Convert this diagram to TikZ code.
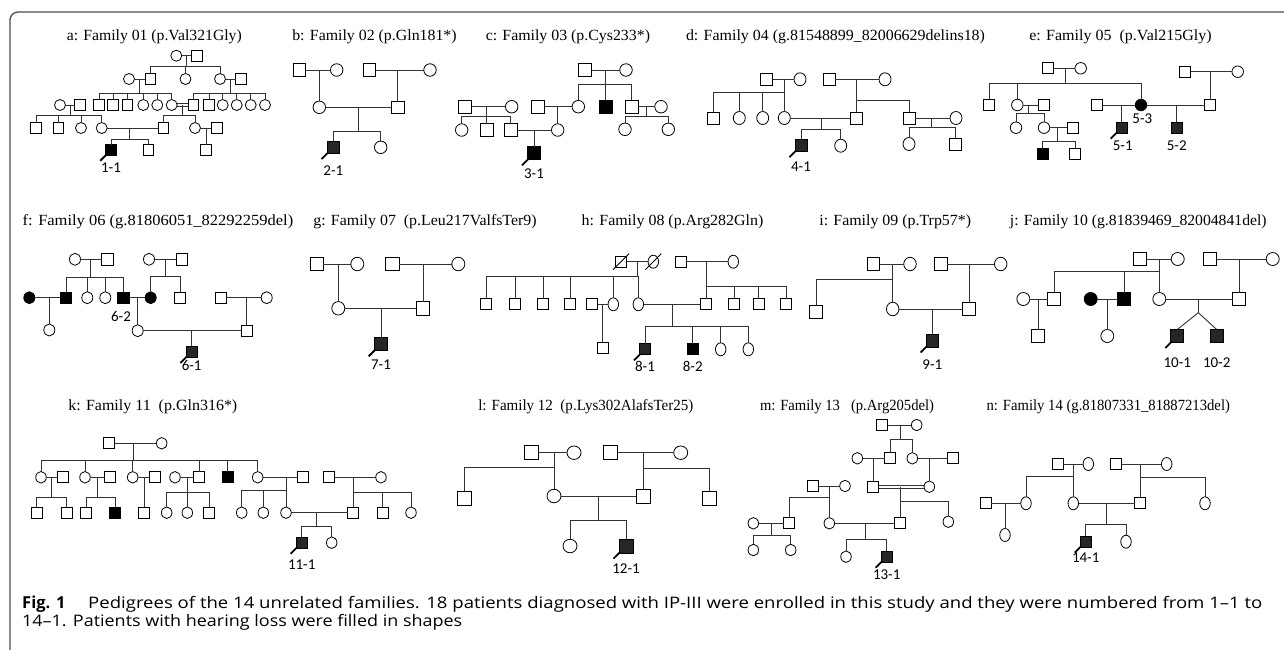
\documentclass[tikz,border=0pt]{standalone}
\usepackage{graphicx}
\usepackage{fontspec}
\setmainfont{Liberation Serif}
\newfontfamily\labfont{Carlito}
\newfontfamily\capfont{Open Sans}
\usetikzlibrary{shapes.geometric,calc}
\def\SZ{12}\def\CW{12}\def\CH{12}
\tikzset{
 ln/.style={draw=black!80, line width=0.9pt},
 base/.style={draw=black, line width=0.8pt, fill=white, inner sep=0pt, outer sep=0pt},
 sq/.style={base, rectangle, minimum size=\SZ pt},
 ci/.style={base, ellipse, minimum width=\CW pt, minimum height=\CH pt},
 aff/.style={fill=black!85},
 affb/.style={fill=black},
 lab/.style={font=\labfont\fontsize{15}{15}\selectfont, inner sep=0pt},
 ttl/.style={font=\fontsize{15.5}{16}\selectfont, inner sep=0pt},
 pro/.style={line width=1.8pt, draw=black},
 dec/.style={draw=black, line width=0.8pt},
 capt/.style={font=\capfont\fontsize{15.9}{16}\selectfont, inner sep=0pt, anchor=base west},
 frame/.style={draw=black!70, line width=1.3pt, rounded corners=8pt},
}
\newcommand\Ttl[4]{\node[ttl] (#1) at (#2) {\resizebox{#3pt}{\height}{#4}};}
\newcommand\Sq[4][]{\node[sq,#1] (#2) at (#3,#4) {};}
\newcommand\Ci[4][]{\node[ci,#1] (#2) at (#3,#4) {};}
\newcommand\Mar[2]{\draw[ln] (#1) -- (#2);}
\newcommand\Sib[4]{\draw[ln] (#1,#2) -- (#1,#3); \foreach \kid in {#4} {\draw[ln] (#1,#3) -| (\kid);}}
\newcommand\Pro[1]{\draw[pro] ([shift={(-5.5pt,-5.5pt)}]#1.south west) -- ([shift={(1pt,1pt)}]#1.south west);}
\newcommand\Dec[1]{\draw[dec] ([shift={(-8pt,-8pt)}]#1.center) -- ([shift={(8pt,8pt)}]#1.center);}
\newcommand\Dbl[2]{\draw[ln] ([yshift=1.6pt]#1.east) -- ([yshift=1.6pt]#2.west); \draw[ln] ([yshift=-1.6pt]#1.east) -- ([yshift=-1.6pt]#2.west);}
\begin{document}
\begin{tikzpicture}[x=1pt,y=-1pt]
\useasboundingbox (0,0) rectangle (1284,649);
\fill[white] (0,0) rectangle (1284,649);
\draw[frame] (10,660) -- (10,12) -- (1300,12);

% ---------- titles
\Ttl{ta}{154.3,37}{175}{a: Family 01 (p.Val321Gly)}
\Ttl{tb}{374.5,37}{164.4}{b: Family 02 (p.Gln181*)}
\Ttl{tc}{567.9,37}{164.3}{c: Family 03 (p.Cys233*)}
\Ttl{td}{835.5,37}{299}{d: Family 04 (g.81548899\_82006629delins18)}
\Ttl{te}{1120.5,37}{182.4}{e: Family 05\ \ (p.Val215Gly)}
\Ttl{tf}{158,221.7}{270.6}{f: Family 06 (g.81806051\_82292259del)}
\Ttl{tg}{425,221.7}{223.4}{g: Family 07\ \ (p.Leu217ValfsTer9)}
\Ttl{th}{672.5,221.7}{181.6}{h: Family 08 (p.Arg282Gln)}
\Ttl{ti}{895.2,221.7}{151.7}{i: Family 09 (p.Trp57*)}
\Ttl{tj}{1138.3,221.7}{256.7}{j: Family 10 (g.81839469\_82004841del)}
\Ttl{tk}{152.8,406.7}{169}{k: Family 11\ \ (p.Gln316*)}
\Ttl{tl}{585.8,406.7}{215}{l: Family 12\ \ (p.Lys302AlafsTer25)}
\Ttl{tm}{847,406.7}{174}{m: Family 13\ \ \ (p.Arg205del)}
\Ttl{tn}{1108.3,406.7}{243.3}{n: Family 14 (g.81807331\_81887213del)}

% ---------- family a
\begin{scope}
\def\SZ{10.5}\def\CW{11}\def\CH{11}
\Ci{a1}{176.3}{55.7} \Sq{a2}{196.7}{55.7}
\Ci{a4}{129}{79} \Sq{a3}{150.5}{79} \Ci{a5}{185.5}{79} \Ci{a6}{220}{79} \Sq{a7}{241}{79}
\Sq{a8}{99}{105} \Sq{a9}{113}{105} \Sq{a10}{127.3}{105} \Ci{a11}{143.3}{105} \Ci{a12}{157.3}{105} \Ci{a13}{171.7}{105}
\Sq{a14}{193.3}{105} \Sq{a15}{209}{105} \Ci{a16}{222.7}{105} \Ci{a17}{236.7}{105} \Ci{a18}{250.7}{105} \Ci{a19}{265}{105}
\Ci{a24}{60}{105} \Sq{a25}{80}{105}
\Sq{a26}{36}{128} \Sq{a27}{58.3}{128} \Ci{a28}{81}{128} \Ci{a29}{101.7}{128} \Sq{a20}{163.3}{128} \Ci{a21}{195}{128} \Sq{a22}{216.7}{128}
\Sq[affb]{a30}{111}{150} \Sq{a31}{148.3}{150} \Sq{a23}{206}{150}
\Mar{a1}{a2} \Sib{186.5}{55.7}{66.7}{a3,a5,a6}
\Mar{a4}{a3} \Sib{139.8}{79}{93.3}{a8,a9,a10,a11,a12,a13}
\Mar{a6}{a7} \Sib{230.5}{79}{93.3}{a14,a15,a16,a17,a18,a19}
\Dbl{a13}{a14} \Sib{182.5}{105}{115.7}{a20,a21}
\Mar{a24}{a25} \Sib{70}{105}{115.7}{a26,a27,a28,a29}
\Mar{a29}{a20} \Sib{129.3}{128}{139}{a30,a31}
\Mar{a21}{a22} \Sib{206}{128}{139}{a23}
\Pro{a30}
\node[lab] (la30) at (111,168) {1-1};
\end{scope}

% ---------- family b
\begin{scope}
\def\SZ{12.5}\def\CW{12.5}\def\CH{12.5}
\Sq{b1}{299.3}{70} \Ci{b2}{336.7}{70} \Sq{b3}{369.3}{70} \Ci{b4}{430}{70}
\Ci{b5}{319.3}{107.3} \Sq{b6}{397.7}{107.3}
\Sq[aff]{b7}{333.3}{147.3} \Ci{b8}{380.7}{147.3}
\Mar{b1}{b2} \Sib{319.3}{70}{90}{b5}
\Mar{b3}{b4} \Sib{397.7}{70}{90}{b6}
\Mar{b5}{b6} \Sib{358.3}{107.3}{131}{b7,b8}
\Pro{b7}
\node[lab] (lb7) at (333.3,170.7) {2-1};
\end{scope}

% ---------- family c
\begin{scope}
\def\SZ{13}\def\CW{12.5}\def\CH{12.5}
\Sq{c1}{585}{70} \Ci{c2}{626}{70}
\Ci{c3}{578.3}{106.7} \Sq[affb]{c4}{605.5}{106.7} \Sq{c5}{631.7}{106.7} \Ci{c6}{661}{106.7}
\Ci{c7}{625}{129.3} \Ci{c8}{668.3}{129.3}
\Sq{c9}{465}{106.7} \Ci{c10}{511.7}{106.7}
\Ci{c11}{461.7}{130} \Sq{c12}{486.7}{130} \Sq{c13}{510.7}{130}
\Sq{c14}{538.3}{106.7} \Ci{c16}{557.7}{130}
\Sq[affb]{c17}{534}{153.3}
\Mar{c1}{c2} \Sib{605.5}{70}{84}{c3,c4,c5}
\Mar{c5}{c6} \Sib{646}{106.7}{116}{c7,c8}
\Mar{c9}{c10} \Sib{486.7}{106.7}{116.7}{c11,c12,c13}
\Mar{c14}{c3} \Sib{557.7}{106.7}{118}{c16}
\Mar{c13}{c16} \Sib{534}{130}{140}{c17}
\Pro{c17}
\node[lab] (lc17) at (534,174) {3-1};
\end{scope}

% ---------- family d
\begin{scope}
\def\SZ{12}\def\CW{12}\def\CH{13}
\Sq{d1}{766.7}{79.3} \Ci{d2}{800}{79.3}
\Sq{d3}{713.3}{118} \Ci{d4}{739.3}{118} \Ci{d5}{762.7}{118} \Ci{d6}{784.3}{118}
\Sq{d7}{829.3}{79.3} \Ci{d8}{885}{79.3}
\Sq{d9}{856}{118} \Sq{d10}{909}{118} \Ci{d13}{956}{118}
\Sq[aff]{d11}{801}{145.7} \Ci{d12}{840.7}{145.7}
\Ci{d14}{909}{144} \Sq{d15}{955}{144}
\Mar{d1}{d2} \Sib{784.3}{79.3}{92.7}{d3,d4,d5,d6}
\Mar{d7}{d8} \Sib{856}{79.3}{100.7}{d9,d10}
\Mar{d6}{d9} \Sib{821.7}{118}{129.3}{d11,d12}
\Mar{d10}{d13} \Sib{931.7}{118}{127.3}{d14,d15}
\Pro{d11}
\node[lab] (ld11) at (801,166.7) {4-1};
\end{scope}

% ---------- family e
\begin{scope}
\def\SZ{11}\def\CW{11.5}\def\CH{11.5}
\Sq{e1}{1048.3}{68.3} \Ci{e2}{1080.7}{68.3}
\Sq{e3}{989.3}{105} \Ci{e4}{1017.3}{105} \Sq{e6}{1044}{105} \Sq{e12}{1097.3}{105} \Ci[affb]{e5}{1141}{105} \Sq{e14}{1210}{105}
\Ci{e7}{1016}{127.7} \Ci{e8}{1044}{127.7} \Sq{e9}{1072.7}{127.7}
\Sq[affb]{e10}{1042.7}{154.3} \Sq{e11}{1075}{154.3}
\Sq[aff]{e13}{1121.7}{127.7} \Sq[aff]{e15}{1176.7}{127.7}
\Sq{e16}{1185}{71.7} \Ci{e17}{1237.7}{71.7}
\Mar{e1}{e2} \Sib{1065}{68.3}{83.3}{e3,e4,e5}
\Mar{e4}{e6} \Sib{1028.3}{105}{113.3}{e7,e8}
\Mar{e8}{e9} \Sib{1057.3}{127.7}{141.7}{e10,e11}
\Mar{e12}{e5} \Sib{1121.7}{105}{115}{e13}
\Mar{e5}{e14} \Sib{1176.7}{105}{115}{e15}
\Mar{e16}{e17} \Sib{1210}{71.7}{90}{e14}
\Pro{e13}
\node[lab] (le5) at (1142.3,118.3) {5-3};
\node[lab] (le13) at (1122.7,145.7) {5-1};
\node[lab] (le15) at (1176.7,145.7) {5-2};
\end{scope}

% ---------- family f
\begin{scope}
\def\SZ{11.5}\def\CW{11}\def\CH{12}
\Ci{f1}{75}{259.3} \Sq{f2}{107.3}{259.3}
\Ci[affb]{f7}{29.3}{297.7} \Sq[affb]{f3}{66}{297.7} \Ci{f4}{87.3}{297.7} \Ci{f5}{105.3}{297.7} \Sq[affb]{f6}{123.3}{297.7}
\Ci{f8}{49.3}{330}
\Ci{f9}{149}{259.3} \Sq{f10}{181.7}{259.3}
\Ci[affb]{f11}{150.7}{297.7} \Sq{f12}{180}{297.7}
\Ci{f13}{137.7}{330.7}
\Sq{f14}{220.7}{297.7} \Ci{f15}{266.7}{297.7} \Sq{f16}{246.7}{330.7}
\Sq[aff]{f17}{191.7}{351.7}
\Mar{f1}{f2} \Sib{90}{259.3}{277.3}{f3,f4,f5,f6}
\Mar{f7}{f3} \Sib{49.3}{297.7}{310}{f8}
\Mar{f9}{f10} \Sib{165}{259.3}{276.7}{f11,f12}
\Mar{f6}{f11} \Sib{137.7}{297.7}{310}{f13}
\Mar{f14}{f15} \Sib{246.7}{297.7}{310}{f16}
\Mar{f13}{f16} \Sib{191.7}{330.7}{340}{f17}
\Pro{f17}
\node[lab] (lf6) at (121,316) {6-2};
\node[lab] (lf17) at (191.7,365) {6-1};
\end{scope}

% ---------- family g
\begin{scope}
\def\SZ{13.5}\def\CW{13}\def\CH{13.5}
\Sq{g1}{316.7}{264} \Ci{g2}{357.3}{264} \Sq{g4}{392.3}{264} \Ci{g5}{458.3}{264}
\Ci{g3}{338.3}{308.3} \Sq{g6}{423}{308.3}
\Sq[aff]{g7}{381}{344}
\Mar{g1}{g2} \Sib{338.3}{264}{285}{g3}
\Mar{g4}{g5} \Sib{423}{264}{285}{g6}
\Mar{g3}{g6} \Sib{381}{308.3}{320}{g7}
\Pro{g7}
\node[lab] (lg7) at (381,365) {7-1};
\end{scope}

% ---------- family h
\begin{scope}
\def\SZ{11}\def\CW{10.5}\def\CH{13}
\Sq{h1}{621}{261.7} \Ci{h2}{653.3}{261.7}
\Sq{h3}{486}{304.3} \Sq{h4}{515}{304.3} \Sq{h5}{543.3}{304.3} \Sq{h6}{570}{304.3} \Sq{h9}{592.3}{304.3} \Ci{h7}{613.3}{304.3} \Ci{h8}{638.3}{304.3}
\Sq{h10}{602.7}{347.7}
\Sq{h11}{680.7}{261.7} \Ci{h12}{733.3}{261.7}
\Sq{h13}{706}{304.3} \Sq{h14}{734}{304.3} \Sq{h15}{758.7}{304.3} \Sq{h16}{786}{304.3}
\Sq[aff]{h17}{645}{349.3} \Sq[affb]{h18}{692.7}{349.3} \Ci{h19}{720.7}{349.3} \Ci{h20}{748.3}{349.3}
\Mar{h1}{h2} \Sib{637.7}{261.7}{276}{h3,h4,h5,h6,h7,h8}
\Mar{h9}{h7} \Sib{602.7}{304.3}{320}{h10}
\Mar{h11}{h12} \Sib{706}{261.7}{286}{h13,h14,h15,h16}
\Mar{h8}{h13} \Sib{672.7}{304.3}{326}{h17,h18,h19,h20}
\Dec{h1} \Dec{h2} \Pro{h17}
\node[lab] (lh17) at (645,366) {8-1};
\node[lab] (lh18) at (692.7,366) {8-2};
\end{scope}

% ---------- family i
\begin{scope}
\def\SZ{12.5}\def\CW{12.5}\def\CH{13.5}
\Sq{i1}{873.3}{264} \Ci{i2}{910}{264} \Sq{i5}{940.7}{264} \Ci{i6}{1000.7}{264}
\Sq{i3}{816}{311.7} \Ci{i4}{892.7}{309} \Sq{i7}{969}{309}
\Sq[aff]{i8}{932.3}{340.7}
\Mar{i1}{i2} \Sib{892.7}{264}{279.3}{i3,i4}
\Mar{i5}{i6} \Sib{969}{264}{285}{i7}
\Mar{i4}{i7} \Sib{932.3}{309}{320}{i8}
\Pro{i8}
\node[lab] (li8) at (932.3,365) {9-1};
\end{scope}

% ---------- family j
\begin{scope}
\def\SZ{13}\def\CW{13}\def\CH{13}
\Sq{j1}{1140}{259} \Ci{j2}{1177.7}{259}
\Ci{j6}{1023.3}{299} \Sq{j3}{1054.3}{299} \Ci[affb]{j8}{1090.7}{299} \Sq[affb]{j4}{1124.3}{299} \Ci{j5}{1159.3}{299}
\Sq{j7}{1038.3}{336} \Ci{j9}{1107.3}{336}
\Sq{j10}{1210}{259} \Ci{j11}{1272.7}{259} \Sq{j12}{1239.3}{299}
\Sq[aff]{j13}{1177.3}{336} \Sq[aff]{j14}{1216.7}{336}
\Mar{j1}{j2} \Sib{1159.3}{259}{271.7}{j3,j4,j5}
\Mar{j6}{j3} \Sib{1038.3}{299}{315}{j7}
\Mar{j8}{j4} \Sib{1107.3}{299}{315}{j9}
\Mar{j10}{j11} \Sib{1239.3}{259}{280}{j12}
\Mar{j5}{j12}
\coordinate (jt) at (1198.3,312.7);
\draw[ln] (1198.3,299) -- (jt);
\draw[ln] (jt) -- (j13.north); \draw[ln] (jt) -- (j14.north);
\Pro{j13}
\node[lab] (lj13) at (1177.3,363) {10-1};
\node[lab] (lj14) at (1216.7,363) {10-2};
\end{scope}

% ---------- family k
\begin{scope}
\def\SZ{11}\def\CW{10.5}\def\CH{11.5}
\Sq{k1}{109.3}{443.3} \Ci{k2}{161.7}{443.3}
\Ci{k3}{41}{477.3} \Sq{k9}{63.3}{477.3} \Ci{k4}{85}{477.3} \Sq{k12}{110}{477.3} \Ci{k5}{132.7}{477.3} \Sq{k15}{155}{477.3}
\Ci{k17}{175}{477.3} \Sq{k6}{199.3}{477.3} \Sq[affb]{k7}{227.7}{477.3} \Ci{k8}{257.7}{477.3} \Sq{k21}{303.3}{477.3}
\Sq{k25}{329.3}{477.3} \Ci{k26}{381}{477.3}
\Sq{k10}{36.7}{512.7} \Sq{k11}{66.7}{512.7} \Sq{k13}{86}{512.7} \Sq[affb]{k14}{115}{512.7} \Sq{k16}{144}{512.7}
\Ci{k18}{166.7}{512.7} \Ci{k19}{187.3}{512.7} \Sq{k20}{209.3}{512.7} \Ci{k22}{241.7}{512.7} \Ci{k23}{263.3}{512.7} \Ci{k24}{286}{512.7}
\Sq{k27}{353.3}{512.7} \Sq{k28}{382.7}{512.7} \Ci{k29}{411}{512.7}
\Sq[aff]{k30}{301.7}{542.7} \Ci{k31}{331.7}{542.7}
\Mar{k1}{k2} \Sib{133.3}{443.3}{460.7}{k3,k4,k5,k6,k7,k8}
\Mar{k3}{k9} \Sib{51.7}{477.3}{497.7}{k10,k11}
\Mar{k4}{k12} \Sib{97.3}{477.3}{497.7}{k13,k14}
\Mar{k5}{k15} \Sib{144}{477.3}{495}{k16}
\Mar{k17}{k6} \Sib{187.3}{477.3}{492.7}{k18,k19,k20}
\Mar{k8}{k21} \Sib{286}{477.3}{490}{k22,k23,k24}
\Mar{k25}{k26} \Sib{353.3}{477.3}{492.3}{k27,k28,k29}
\Mar{k24}{k27} \Sib{316}{512.7}{526.7}{k30,k31}
\Pro{k30}
\node[lab] (lk30) at (301.7,565) {11-1};
\end{scope}

% ---------- family l
\begin{scope}
\def\SZ{14}\def\CW{14}\def\CH{13.5}
\Sq{l1}{531.7}{452.7} \Ci{l2}{574}{452.7} \Sq{l5}{610.7}{452.7} \Ci{l6}{680.7}{452.7}
\Sq{l3}{464.3}{498.3} \Ci{l4}{554}{496} \Sq{l7}{643.3}{496} \Sq{l8}{709}{498.3}
\Ci{l9}{570}{546} \Sq[aff]{l10}{626}{546}
\Mar{l1}{l2} \Sib{554}{452.7}{467.3}{l3,l4}
\Mar{l5}{l6} \Sib{643.3}{452.7}{468.3}{l7,l8}
\Mar{l4}{l7} \Sib{598.3}{496}{520}{l9,l10}
\Pro{l10}
\node[lab] (ll10) at (626,569) {12-1};
\end{scope}

% ---------- family m
\begin{scope}
\def\SZ{11}\def\CW{10.5}\def\CH{11.5}
\Sq{m1}{882.3}{425} \Ci{m2}{916.7}{425}
\Ci{m5}{857.3}{458.3} \Sq{m3}{890}{458.3} \Ci{m4}{912.3}{458.3} \Sq{m7}{953.3}{458.3}
\Sq{m6}{873.3}{486.7} \Ci{m8}{929.3}{486.7}
\Sq{m11}{813.3}{486} \Ci{m12}{845}{486}
\Ci{m15}{753.3}{523.3} \Sq{m13}{789}{523.3} \Ci{m14}{829.3}{523.3} \Sq{m9}{900}{523.3} \Ci{m10}{948.3}{521.7}
\Ci{m16}{753.3}{550} \Ci{m17}{790.7}{550}
\Ci{m18}{846}{556.7} \Sq[aff]{m19}{886.7}{556.7}
\Mar{m1}{m2} \Sib{900}{425}{439.3}{m3,m4}
\Mar{m5}{m3} \Sib{873.3}{458.3}{470}{m6}
\Mar{m4}{m7} \Sib{929.3}{458.3}{470}{m8}
\Dbl{m6}{m8} \Sib{900}{486.7}{501}{m9,m10}
\Mar{m11}{m12} \Sib{829.3}{486}{497.7}{m13,m14}
\Mar{m15}{m13} \Sib{771.7}{523.3}{535}{m16,m17}
\Mar{m14}{m9} \Sib{865}{523.3}{539.3}{m18,m19}
\Pro{m19}
\node[lab] (lm19) at (886.7,575) {13-1};
\end{scope}

% ---------- family n
\begin{scope}
\def\SZ{11}\def\CW{10.5}\def\CH{13}
\Sq{n1}{1057.7}{464} \Ci{n2}{1088.3}{464} \Sq{n5}{1115.7}{464} \Ci{n6}{1166.7}{464}
\Sq{n9}{985.7}{503.3} \Ci{n3}{1026}{503.3} \Ci{n4}{1073.3}{503.3} \Sq{n7}{1140}{503.3} \Ci{n8}{1205}{503.3}
\Ci{n10}{1005}{535}
\Sq[aff]{n11}{1085.7}{541.7} \Ci{n12}{1126}{541.7}
\Mar{n1}{n2} \Sib{1073.3}{464}{476}{n3,n4}
\Mar{n5}{n6} \Sib{1140}{464}{477.3}{n7,n8}
\Mar{n9}{n3} \Sib{1005}{503.3}{515}{n10}
\Mar{n4}{n7} \Sib{1106.7}{503.3}{524.3}{n11,n12}
\Pro{n11}
\node[lab] (ln11) at (1085.7,558) {14-1};
\end{scope}

% ---------- caption
\node[capt, font=\capfont\bfseries\fontsize{16.5}{16}\selectfont] (fig) at (22,608) {Fig. 1};
\node[capt] (cap1) at (88,608) {\resizebox{1174pt}{\height}{Pedigrees of the 14 unrelated families. 18 patients diagnosed with IP-III were enrolled in this study and they were numbered from 1–1 to}};
\node[capt] (cap2) at (22,626) {\resizebox{440pt}{\height}{14–1. Patients with hearing loss were filled in shapes}};
\end{tikzpicture}
\end{document}
